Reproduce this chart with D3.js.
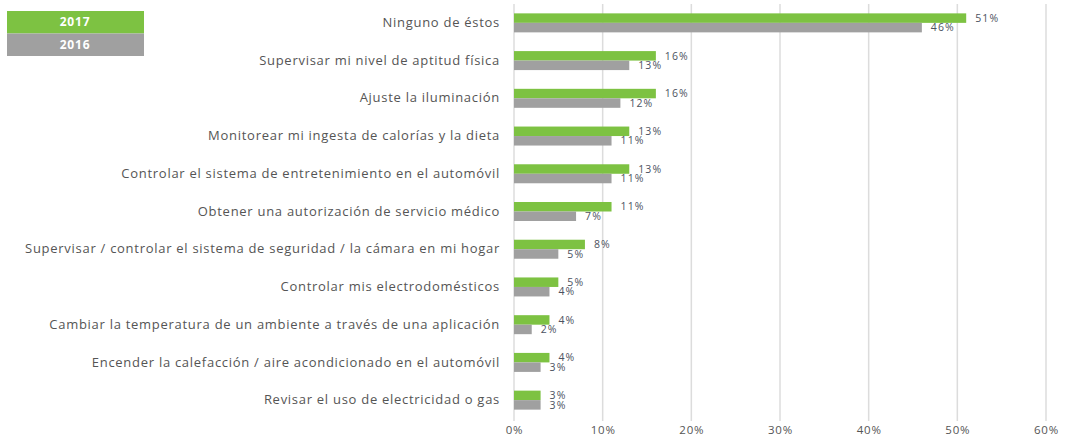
<!DOCTYPE html>
<html>
<head>
<meta charset="utf-8">
<script src="https://cdn.jsdelivr.net/npm/d3@7"></script>
<style>
  body { margin: 0; background: #fff; }
  text { font-family: "Open Sans", sans-serif; }
</style>
</head>
<body>
<svg id="chart"></svg>
<script>
const categories = [
  'Ninguno de éstos',
  'Supervisar mi nivel de aptitud física',
  'Ajuste la iluminación',
  'Monitorear mi ingesta de calorías y la dieta',
  'Controlar el sistema de entretenimiento en el automóvil',
  'Obtener una autorización de servicio médico',
  'Supervisar / controlar el sistema de seguridad / la cámara en mi hogar',
  'Controlar mis electrodomésticos',
  'Cambiar la temperatura de un ambiente a través de una aplicación',
  'Encender la calefacción / aire acondicionado en el automóvil',
  'Revisar el uso de electricidad o gas'
]
const values2017 = [51, 16, 16, 13, 13, 11, 8, 5, 4, 4, 3]
const values2016 = [46, 13, 12, 11, 11, 7, 5, 4, 2, 3, 3]
const xTicks = [0, 10, 20, 30, 40, 50, 60]
const seriesNames = ['2017', '2016']

const width = 1065
const height = 437
const green = '#7dc242'
const gray = '#a0a0a0'

const svg = d3.select('#chart')
  .attr('width', width)
  .attr('height', height)

const x = d3.scaleLinear().domain([0, 60]).range([514, 1046])
const y = d3.scaleBand().domain(categories).range([4, 419])

// grid
svg.append('g')
  .selectAll('line')
  .data(xTicks)
  .enter()
  .append('line')
  .attr('x1', d => x(d))
  .attr('x2', d => x(d))
  .attr('y1', 4)
  .attr('y2', 421)
  .attr('stroke', '#dcdcdc')
  .attr('stroke-width', 1.5)

// axis labels
const xAxis = d3.axisBottom(x)
  .tickValues(xTicks)
  .tickFormat(d => d + '%')
  .tickSize(0)
  .tickPadding(0)
const axisG = svg.append('g')
  .attr('transform', 'translate(0,426)')
  .call(xAxis)
axisG.select('.domain').remove()
axisG.selectAll('text')
  .attr('font-size', 11.5)
  .attr('letter-spacing', 0.8)
  .attr('fill', '#555')
  .attr('font-family', '"Open Sans", sans-serif')

// category labels
const yAxis = d3.axisLeft(y).tickSize(0).tickPadding(0)
const yG = svg.append('g')
  .attr('transform', 'translate(500,0)')
  .call(yAxis)
yG.select('.domain').remove()
yG.selectAll('text')
  .attr('font-size', 13)
  .attr('letter-spacing', 0.72)
  .attr('fill', '#555')
  .attr('font-family', '"Open Sans", sans-serif')

const barH = 9.5
const rows = categories.map((c, i) => ({ cat: c, v17: values2017[i], v16: values2016[i] }))

const bars = svg.append('g')
bars.selectAll('.b17')
  .data(rows)
  .enter()
  .append('rect')
  .attr('x', x(0))
  .attr('y', d => y(d.cat) + y.bandwidth() / 2 - barH)
  .attr('width', d => x(d.v17) - x(0))
  .attr('height', barH)
  .attr('fill', green)

bars.selectAll('.b16')
  .data(rows)
  .enter()
  .append('rect')
  .attr('x', x(0))
  .attr('y', d => y(d.cat) + y.bandwidth() / 2)
  .attr('width', d => x(d.v16) - x(0))
  .attr('height', barH)
  .attr('fill', gray)

bars.selectAll('.l17')
  .data(rows)
  .enter()
  .append('text')
  .attr('x', d => x(d.v17) + 9)
  .attr('y', d => y(d.cat) + y.bandwidth() / 2 - barH / 2)
  .attr('dy', '0.35em')
  .attr('font-size', 10.5)
  .attr('letter-spacing', 1.1)
  .attr('fill', '#4c5260')
  .text(d => d.v17 + '%')

bars.selectAll('.l16')
  .data(rows)
  .enter()
  .append('text')
  .attr('x', d => x(d.v16) + 9)
  .attr('y', d => y(d.cat) + y.bandwidth() / 2 + barH / 2)
  .attr('dy', '0.35em')
  .attr('font-size', 10.5)
  .attr('letter-spacing', 1.1)
  .attr('fill', '#4c5260')
  .text(d => d.v16 + '%')

// legend
const legend = svg.append('g')
legend.selectAll('rect')
  .data(seriesNames)
  .enter()
  .append('rect')
  .attr('x', 7)
  .attr('y', (d, i) => 11 + i * 22.5)
  .attr('width', 137)
  .attr('height', 22.5)
  .attr('fill', (d, i) => i === 0 ? green : gray)
legend.selectAll('text')
  .data(seriesNames)
  .enter()
  .append('text')
  .attr('x', 75)
  .attr('y', (d, i) => 11 + i * 22.5 + 11.25)
  .attr('dy', '0.35em')
  .attr('text-anchor', 'middle')
  .attr('font-size', 12)
  .attr('letter-spacing', 0.8)
  .attr('font-weight', 'bold')
  .attr('fill', '#fff')
  .text(d => d)
</script>
</body>
</html>
